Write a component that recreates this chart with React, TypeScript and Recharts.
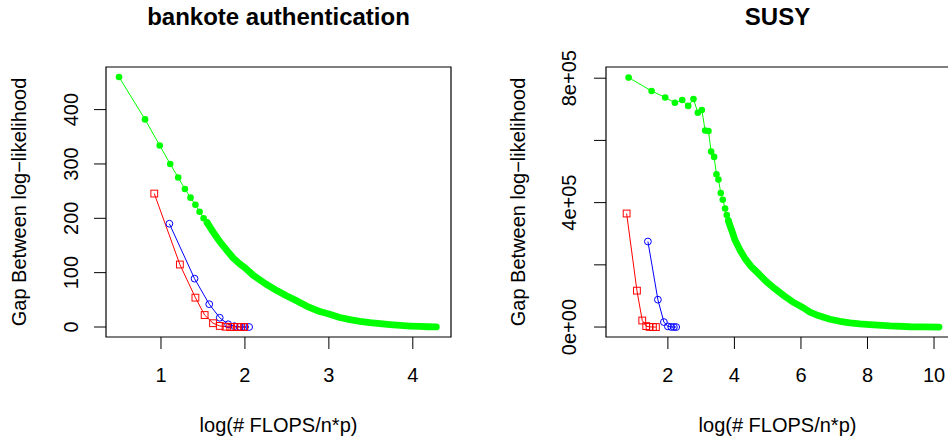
import React from 'react';
import { LineChart, Line, XAxis, YAxis, ReferenceArea } from 'recharts';

const FONT = '"Liberation Sans", Arial, Helvetica, sans-serif';

// ---------- Panel 1: bankote authentication ----------
const bankTitle = 'bankote authentication';
const bankXTicks = [1, 2, 3, 4];
const bankYTicks = [0, 100, 200, 300, 400];
const bankXDomain = [0.345, 4.455];
const bankYDomain = [-18.4, 478.4];

const bankGreenSparseX = [0.5, 0.81, 0.985, 1.11, 1.205, 1.285, 1.352, 1.41, 1.46, 1.508, 1.55];
const bankGreenSparseY = [460, 382, 334, 300, 275, 254, 238, 225, 212, 200, 192];
const bankGreenDenseX = [1.55, 1.62, 1.7, 1.78, 1.86, 1.94, 2.0, 2.1, 2.24, 2.38, 2.5, 2.62, 2.74, 2.89, 3.0, 3.13, 3.25, 3.37, 3.49, 3.61, 3.73, 3.85, 3.97, 4.08, 4.18, 4.28];
const bankGreenDenseY = [192, 175, 157, 142, 127, 116, 109, 95, 80, 67, 57, 48, 38, 28.5, 24, 17.5, 13.5, 10.5, 8, 6, 4.3, 3, 1.8, 1, 0.5, 0.2];

const bankRedX = [0.92, 1.225, 1.41, 1.52, 1.62, 1.7, 1.77, 1.825, 1.87, 1.915, 1.955, 1.99];
const bankRedY = [245.5, 115, 54, 22, 7, 2, 0.5, 0.1, 0, 0, 0, 0];

const bankBlueX = [1.1, 1.4, 1.575, 1.7, 1.8, 1.875, 1.94, 2.0, 2.05];
const bankBlueY = [190, 89, 42, 17, 5, 1.5, 0.4, 0.1, 0];

// ---------- Panel 2: SUSY ----------
const susyTitle = 'SUSY';
const susyXTicks = [2, 4, 6, 8, 10];
const susyYTicks = [0, 200000, 400000, 600000, 800000];
const susyYTickLabels: Record<number, string> = { 0: '0e+00', 400000: '4e+05', 800000: '8e+05' };
const susyXDomain = [0.14, 10.45];
const susyYDomain = [-32000, 836000];

const susyGreenSparseX = [0.82, 1.51, 1.92, 2.21, 2.43, 2.61, 2.77, 2.9, 3.02, 3.12, 3.22, 3.3, 3.39, 3.46, 3.52, 3.59, 3.65, 3.72, 3.77, 3.82];
const susyGreenSparseY = [802000, 759000, 738000, 721000, 730000, 711000, 733000, 689000, 698000, 632000, 630000, 564000, 547000, 491000, 474000, 431000, 409000, 381000, 360000, 342000];
const susyGreenDenseX = [3.82, 3.87, 3.92, 4.02, 4.17, 4.32, 4.5, 4.72, 4.97, 5.22, 5.5, 5.75, 6.07, 6.27, 6.52, 6.87, 7.17, 7.47, 7.77, 8.07, 8.68, 9.28, 9.7, 10.15];
const susyGreenDenseY = [342000, 325000, 311000, 279000, 247000, 220000, 195000, 172000, 145000, 123000, 100000, 81000, 62000, 48000, 37000, 25000, 18500, 13500, 10000, 7500, 3500, 1000, 300, 0];

const susyRedX = [0.76, 1.07, 1.23, 1.35, 1.45, 1.55, 1.64];
const susyRedY = [365000, 117000, 21000, 3000, 500, 0, 0];

const susyBlueX = [1.4, 1.7, 1.88, 2.0, 2.1, 2.18, 2.25];
const susyBlueY = [275000, 88000, 16000, 2000, 300, 0, 0];

const zip = (xs: number[], ys: number[]) => xs.map((x, i) => ({ x, y: ys[i] }));

const GREEN = '#00ff00';
const RED = '#ff0000';
const BLUE = '#0000ff';

const greenDot = (p: any) =>
  p.cx == null ? null : <circle key={`g${p.index}`} cx={p.cx} cy={p.cy} r={3.3} fill={GREEN} stroke="none" />;
const redSquare = (p: any) =>
  p.cx == null ? null : (
    <rect key={`r${p.index}`} x={p.cx - 3.4} y={p.cy - 3.4} width={6.8} height={6.8} fill="none" stroke={RED} strokeWidth={1} />
  );
const blueCircle = (p: any) =>
  p.cx == null ? null : <circle key={`b${p.index}`} cx={p.cx} cy={p.cy} r={3.4} fill="none" stroke={BLUE} strokeWidth={1} />;

const makeYTick = (bx: number, fmt: (v: number) => string) => (p: any) => {
  const v = p.payload.value;
  const s = fmt(v);
  if (!s) return <g />;
  return (
    <text x={bx} y={p.y} transform={`rotate(-90 ${bx} ${p.y})`} textAnchor="middle" fontSize={20} fontFamily={FONT} fill="#000">
      {s}
    </text>
  );
};

const XTick = (p: any) => (
  <text x={p.x} y={382} textAnchor="middle" fontSize={20} fontFamily={FONT} fill="#000">
    {String(p.payload.value)}
  </text>
);

const XTitle = (p: any) => {
  const vb = p.viewBox || {};
  return (
    <text x={vb.x + vb.width / 2} y={vb.y + 95} textAnchor="middle" fontSize={20} fontFamily={FONT} fill="#000">
      log(# FLOPS/n*p)
    </text>
  );
};

const makeYTitle = (bx: number) => (p: any) => {
  const vb = p.viewBox || {};
  const cy = vb.y + vb.height / 2;
  return (
    <text x={bx} y={cy} transform={`rotate(-90 ${bx} ${cy})`} textAnchor="middle" fontSize={20} fontFamily={FONT} fill="#000">
      Gap Between log−likelihood
    </text>
  );
};

type PanelProps = {
  width: number;
  yAxisWidth: number;
  rightMargin: number;
  xDomain: number[];
  yDomain: number[];
  xTicks: number[];
  yTicks: number[];
  yFmt: (v: number) => string;
  yTickBx: number;
  yTitleBx: number;
  greenSparse: { x: number; y: number }[];
  greenDense: { x: number; y: number }[];
  red: { x: number; y: number }[];
  blue: { x: number; y: number }[];
};

const Panel = (pp: PanelProps) => (
  <LineChart width={pp.width} height={440} margin={{ top: 67, right: pp.rightMargin, bottom: 0, left: 0 }}>
    <XAxis
      dataKey="x"
      type="number"
      domain={pp.xDomain}
      ticks={pp.xTicks}
      allowDataOverflow
      axisLine={false}
      tickLine={{ stroke: '#000', strokeWidth: 1 }}
      tickSize={12}
      height={103}
      tick={XTick}
      interval={0}
      label={XTitle}
    />
    <YAxis
      type="number"
      domain={pp.yDomain}
      ticks={pp.yTicks}
      allowDataOverflow
      axisLine={false}
      tickLine={{ stroke: '#000', strokeWidth: 1 }}
      tickSize={12}
      width={pp.yAxisWidth}
      tick={makeYTick(pp.yTickBx, pp.yFmt)}
      interval={0}
      label={makeYTitle(pp.yTitleBx)}
    />
    <ReferenceArea
      x1={pp.xDomain[0]}
      x2={pp.xDomain[1]}
      y1={pp.yDomain[0]}
      y2={pp.yDomain[1]}
      fill="none"
      fillOpacity={0}
      stroke="#000"
      strokeWidth={1.2}
      ifOverflow="visible"
    />
    <Line
      data={pp.greenDense}
      dataKey="y"
      stroke={GREEN}
      strokeWidth={6.8}
      strokeLinecap="round"
      strokeLinejoin="round"
      dot={false}
      activeDot={false}
      isAnimationActive={false}
      type="linear"
    />
    <Line
      data={pp.greenSparse}
      dataKey="y"
      stroke={GREEN}
      strokeWidth={1}
      dot={greenDot}
      activeDot={false}
      isAnimationActive={false}
      type="linear"
    />
    <Line
      data={pp.blue}
      dataKey="y"
      stroke={BLUE}
      strokeWidth={1}
      dot={blueCircle}
      activeDot={false}
      isAnimationActive={false}
      type="linear"
    />
    <Line
      data={pp.red}
      dataKey="y"
      stroke={RED}
      strokeWidth={1}
      dot={redSquare}
      activeDot={false}
      isAnimationActive={false}
      type="linear"
    />
  </LineChart>
);

export default function App() {
  return (
    <div style={{ position: 'absolute', left: 0, top: 0, width: 948, height: 440, overflow: 'hidden', background: '#fff' }}>
      <div style={{ position: 'absolute', left: 0, top: 0 }}>
        <Panel
          width={474}
          yAxisWidth={106}
          rightMargin={23}
          xDomain={bankXDomain}
          yDomain={bankYDomain}
          xTicks={bankXTicks}
          yTicks={bankYTicks}
          yFmt={(v) => String(v)}
          yTickBx={78}
          yTitleBx={26}
          greenSparse={zip(bankGreenSparseX, bankGreenSparseY)}
          greenDense={zip(bankGreenDenseX, bankGreenDenseY)}
          red={zip(bankRedX, bankRedY)}
          blue={zip(bankBlueX, bankBlueY)}
        />
      </div>
      <div style={{ position: 'absolute', left: 474, top: 0 }}>
        <Panel
          width={490}
          yAxisWidth={132}
          rightMargin={15}
          xDomain={susyXDomain}
          yDomain={susyYDomain}
          xTicks={susyXTicks}
          yTicks={susyYTicks}
          yFmt={(v) => susyYTickLabels[v] || ''}
          yTickBx={101.7}
          yTitleBx={51}
          greenSparse={zip(susyGreenSparseX, susyGreenSparseY)}
          greenDense={zip(susyGreenDenseX, susyGreenDenseY)}
          red={zip(susyRedX, susyRedY)}
          blue={zip(susyBlueX, susyBlueY)}
        />
      </div>
      <svg width={948} height={440} style={{ position: 'absolute', left: 0, top: 0, pointerEvents: 'none' }}>
        <text x={278.5} y={25} textAnchor="middle" fontSize={24} fontWeight="bold" fontFamily={FONT} fill="#000">
          {bankTitle}
        </text>
        <text x={777.5} y={25} textAnchor="middle" fontSize={24} fontWeight="bold" fontFamily={FONT} fill="#000">
          {susyTitle}
        </text>
      </svg>
    </div>
  );
}
